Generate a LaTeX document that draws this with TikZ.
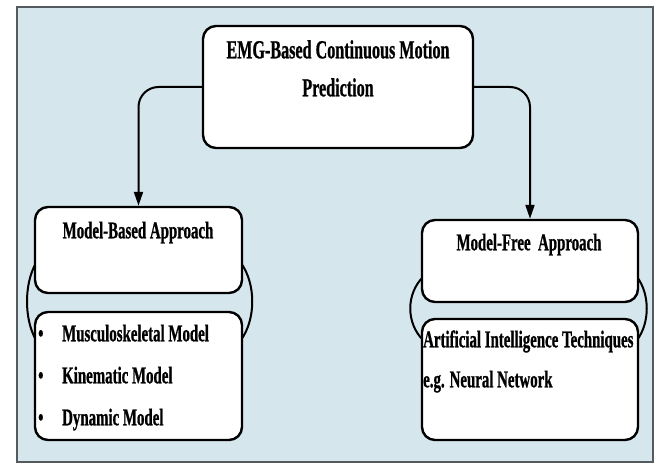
\documentclass[tikz,border=0pt]{standalone}
\usepackage{fontspec}
\setmainfont{Liberation Serif}[FakeStretch=0.62, BoldFeatures={FakeBold=0.8}]
\usepackage{tikz}
\usetikzlibrary{arrows.meta,positioning}
\definecolor{panel}{RGB}{214,230,237}
\definecolor{panelframe}{RGB}{85,90,95}
\tikzset{process box/.style={rectangle, draw=black, fill=white, line width=2.4pt,
    rounded corners=13pt, inner sep=0pt}}
\tikzset{title text/.style={font=\fontsize{26}{38}\selectfont\bfseries, align=center, inner sep=0pt, anchor=mid}}
\tikzset{head text/.style={font=\fontsize{24}{28}\selectfont\bfseries, inner sep=0pt, anchor=mid}}
\tikzset{item text/.style={font=\fontsize{24}{28}\selectfont\bfseries, inner sep=0pt, anchor=mid west}}
\tikzset{branch edge/.style={draw=black, line width=2pt, rounded corners=20pt,
    -{Triangle[length=14pt,width=9pt]}}}
\tikzset{group arc/.style={draw=black, line width=2pt}}

\begin{document}
\begin{tikzpicture}
  [x=1pt, y=-1pt]
  \useasboundingbox (0,0) rectangle (659,473);
  \draw [fill=panel, draw=panelframe, line width=2.4pt] (17,7) rectangle (653,462);

  % the two arcs behind each pair of boxes
  \draw [group arc] (36,263)  .. controls (24,284)  and (24,319)  .. (36,340);
  \draw [group arc] (241,263) .. controls (256,284) and (256,319) .. (241,340);
  \draw [group arc] (423,277) .. controls (406,294) and (406,323) .. (423,340);
  \draw [group arc] (637,277) .. controls (650,294) and (650,323) .. (637,340);

  \node [process box, minimum width=270pt, minimum height=122pt] (emg) at (338,87)    {};
  \node [process box, minimum width=207pt, minimum height=86pt]  (mba) at (138.5,250) {};
  \node [process box, minimum width=207pt, minimum height=128pt] (mbl) at (138.5,376) {};
  \node [process box, minimum width=216pt, minimum height=82pt]  (mfa) at (530,261)   {};
  \node [process box, minimum width=216pt, minimum height=121pt] (mfl) at (530,379.5) {};

  % base of a two-line node sits on its last line
  \node [title text] (emgtext) at (338,94)  {EMG-Based Continuous Motion\\Prediction};
  \node [head text]  (mbatext) at (138,236) {Model-Based Approach};
  \node [head text]  (mfatext) at (529,248) {Model-Free\ \ Approach};

  \node [item text] (bul1) at (38,339) {•};
  \node [item text] (bul2) at (38,381) {•};
  \node [item text] (bul3) at (38,423) {•};
  \node [item text] (mbl1) at (62,339) {Musculoskeletal Model};
  \node [item text] (mbl2) at (62,381) {Kinematic Model};
  \node [item text] (mbl3) at (62,423) {Dynamic Model};

  \node [item text] (mfl1) at (423,345) {Artificial Intelligence Techniques};
  \node [item text] (mfl2) at (423,385) {e.g. Neural Network};

  \draw [branch edge] (emg.west) -| (mba.north);
  \draw [branch edge] (emg.east) -| (mfa.north);
\end{tikzpicture}
\end{document}
